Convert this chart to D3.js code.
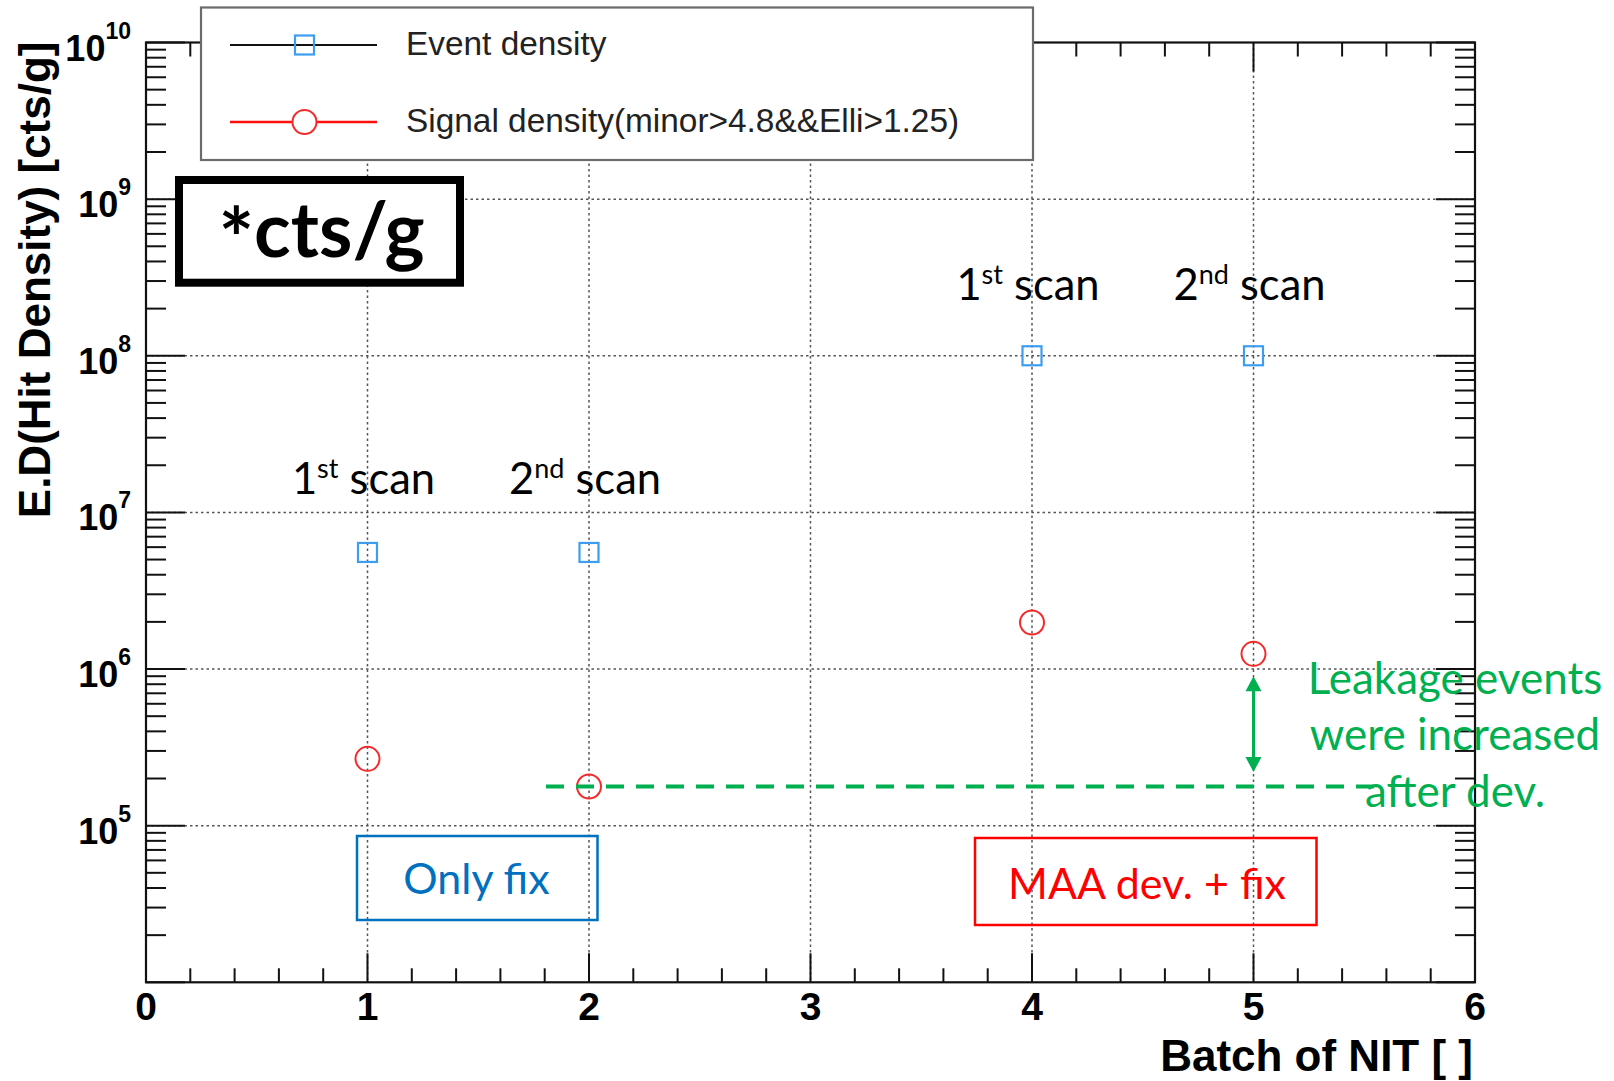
<!DOCTYPE html>
<html>
<head>
<meta charset="utf-8">
<script src="https://cdn.jsdelivr.net/npm/d3@7"></script>
<style>
  html, body { margin: 0; padding: 0; background: #fff; }
  svg { display: block; }
</style>
</head>
<body>
<svg id="chart" width="1614" height="1081"></svg>
<script>
// ---------------- data ----------------
const batches = [1, 2, 4, 5];
const eventDensity = [5.55e6, 5.55e6, 1.0e8, 1.0e8];
const signalDensity = [2.67e5, 1.78e5, 1.98e6, 1.25e6];
const xTickValues = [0, 1, 2, 3, 4, 5, 6];
const yDecades = [4, 5, 6, 7, 8, 9, 10];
const scanLabels = [
  { x: 1, num: "1", sup: "st" },
  { x: 2, num: "2", sup: "nd" },
  { x: 4, num: "1", sup: "st" },
  { x: 5, num: "2", sup: "nd" }
];
const legendLabels = ["Event density", "Signal density(minor>4.8&&Elli>1.25)"];
const leakageLines = ["Leakage events", "were increased", "after dev."];
const arrowRange = [0.9e6, 2.2e5];

// ---------------- layout ----------------
const L = 146, R = 1475, T = 42.5, B = 982.3;
const svg = d3.select("#chart");
const x = d3.scaleLinear().domain([0, 6]).range([L, R]);
const y = d3.scaleLog().domain([1e4, 1e10]).range([B, T]);

const ROOTFONT = "'Liberation Sans', Arial, Helvetica, sans-serif";
const CAL = "Lato, 'Open Sans', sans-serif";
const GREEN = "#00B050";

// grid
const gGrid = svg.append("g").attr("stroke", "#555").attr("stroke-width", 1.5)
  .attr("stroke-dasharray", "2.5,3");
gGrid.selectAll("line.gx").data([1, 2, 3, 4, 5]).join("line")
  .attr("x1", d => x(d)).attr("x2", d => x(d)).attr("y1", T).attr("y2", B);
gGrid.selectAll("line.gy").data([5, 6, 7, 8, 9]).join("line")
  .attr("x1", L).attr("x2", R).attr("y1", d => y(Math.pow(10, d))).attr("y2", d => y(Math.pow(10, d)));

// ticks
const xMinor = d3.range(0, 30).map(i => i * 0.2).filter(v => Math.abs(v - Math.round(v)) > 1e-6);
const yMinor = [];
for (let e = 4; e < 10; e++) for (let m = 2; m <= 9; m++) yMinor.push(m * Math.pow(10, e));
const gTicks = svg.append("g").attr("stroke", "#111").attr("stroke-width", 2);
gTicks.selectAll(null).data(xMinor).join("line")
  .attr("x1", d => x(d)).attr("x2", d => x(d)).attr("y1", B).attr("y2", B - 14);
gTicks.selectAll(null).data(xTickValues).join("line")
  .attr("x1", d => x(d)).attr("x2", d => x(d)).attr("y1", B).attr("y2", B - 29);
gTicks.selectAll(null).data(xMinor).join("line")
  .attr("x1", d => x(d)).attr("x2", d => x(d)).attr("y1", T).attr("y2", T + 14);
gTicks.selectAll(null).data(xTickValues).join("line")
  .attr("x1", d => x(d)).attr("x2", d => x(d)).attr("y1", T).attr("y2", T + 29);
gTicks.selectAll(null).data(yMinor).join("line")
  .attr("x1", L).attr("x2", L + 20).attr("y1", d => y(d)).attr("y2", d => y(d));
gTicks.selectAll(null).data(yDecades).join("line")
  .attr("x1", L).attr("x2", L + 39).attr("y1", d => y(Math.pow(10, d))).attr("y2", d => y(Math.pow(10, d)));
gTicks.selectAll(null).data(yMinor).join("line")
  .attr("x1", R).attr("x2", R - 20).attr("y1", d => y(d)).attr("y2", d => y(d));
gTicks.selectAll(null).data(yDecades).join("line")
  .attr("x1", R).attr("x2", R - 39).attr("y1", d => y(Math.pow(10, d))).attr("y2", d => y(Math.pow(10, d)));

// frame
svg.append("rect").attr("x", L).attr("y", T).attr("width", R - L).attr("height", B - T)
  .attr("fill", "none").attr("stroke", "#111").attr("stroke-width", 2.2);

// x tick labels
svg.append("g").selectAll("text").data(xTickValues).join("text")
  .attr("x", d => x(d)).attr("y", 1020).attr("text-anchor", "middle")
  .attr("font-family", ROOTFONT).attr("font-weight", "bold").attr("font-size", 39)
  .attr("fill", "#000").text(d => d);

// y tick labels (10^n)
const yl = svg.append("g").selectAll("text").data(yDecades.filter(d => d >= 5)).join("text")
  .attr("x", 131).attr("y", d => y(Math.pow(10, d)) + 18).attr("text-anchor", "end")
  .attr("font-family", ROOTFONT).attr("font-weight", "bold").attr("fill", "#000");
yl.append("tspan").attr("font-size", 36).text("10");
yl.append("tspan").attr("font-size", 23).attr("dy", -22).text(d => d);

// axis titles
svg.append("text").attr("x", R - 2).attr("y", 1071).attr("text-anchor", "end")
  .attr("font-family", ROOTFONT).attr("font-weight", "bold").attr("font-size", 44)
  .attr("fill", "#000").text("Batch of NIT [ ]");
svg.append("text").attr("transform", `translate(50,${T - 1}) rotate(-90)`)
  .attr("text-anchor", "end")
  .attr("font-family", ROOTFONT).attr("font-weight", "bold").attr("font-size", 44)
  .attr("fill", "#000").text("E.D(Hit Density) [cts/g]");

// data markers
const gPts = svg.append("g");
gPts.selectAll("rect").data(batches).join("rect")
  .attr("x", (d, i) => x(d) - 9.5).attr("y", (d, i) => y(eventDensity[i]) - 9.5)
  .attr("width", 19).attr("height", 19)
  .attr("fill", "none").attr("stroke", "#3d9df0").attr("stroke-width", 2.2);
gPts.selectAll("circle").data(batches).join("circle")
  .attr("cx", d => x(d)).attr("cy", (d, i) => y(signalDensity[i])).attr("r", 12)
  .attr("fill", "none").attr("stroke", "#f52a2a").attr("stroke-width", 2);

// legend
svg.append("rect").attr("x", 201).attr("y", 7.5).attr("width", 832).attr("height", 152.5)
  .attr("fill", "#fff").attr("stroke", "#6b6b6b").attr("stroke-width", 2.2);
const legY = [45, 122];
svg.append("line").attr("x1", 230).attr("x2", 377).attr("y1", legY[0]).attr("y2", legY[0])
  .attr("stroke", "#111").attr("stroke-width", 2);
svg.append("rect").attr("x", 304.5 - 9.5).attr("y", legY[0] - 9.5).attr("width", 19).attr("height", 19)
  .attr("fill", "none").attr("stroke", "#3d9df0").attr("stroke-width", 2.2);
svg.append("line").attr("x1", 230).attr("x2", 377).attr("y1", legY[1]).attr("y2", legY[1])
  .attr("stroke", "#ff1010").attr("stroke-width", 2.4);
svg.append("circle").attr("cx", 304.5).attr("cy", legY[1]).attr("r", 12)
  .attr("fill", "#fff").attr("stroke", "#f52a2a").attr("stroke-width", 2);
svg.append("g").selectAll("text").data(legendLabels).join("text")
  .attr("x", 406).attr("y", (d, i) => legY[i] + 10)
  .attr("font-family", ROOTFONT).attr("font-size", 33.4).attr("fill", "#222").text(d => d);

// "*cts/g" box
svg.append("rect").attr("x", 179).attr("y", 180).attr("width", 281).attr("height", 102.7)
  .attr("fill", "#fff").attr("stroke", "#000").attr("stroke-width", 8);
const ct = svg.append("text").attr("x", 321.5).attr("y", 257).attr("text-anchor", "middle")
  .attr("font-family", CAL).attr("font-weight", "bold").attr("font-size", 76).attr("fill", "#000");
ct.append("tspan").attr("font-size", 84).attr("dy", 12).text("*");
ct.append("tspan").attr("dy", -12).text("cts/g");

// scan labels
const sl = svg.append("g").selectAll("text").data(scanLabels).join("text")
  .attr("x", d => x(d.x) - 4).attr("y", (d, i) => i < 2 ? 494 : 300)
  .attr("text-anchor", "middle").attr("font-family", CAL).attr("font-size", 43.5).attr("fill", "#000");
sl.append("tspan").text(d => d.num);
sl.append("tspan").attr("font-size", 27).attr("dy", -16).text(d => d.sup);
sl.append("tspan").attr("dy", 16).text(" scan");

// Only fix box
svg.append("rect").attr("x", 357).attr("y", 836).attr("width", 240.5).attr("height", 84)
  .attr("fill", "none").attr("stroke", "#0070C0").attr("stroke-width", 2.5);
svg.append("text").attr("x", 476.5).attr("y", 894).attr("text-anchor", "middle")
  .attr("font-family", CAL).attr("font-size", 43).attr("fill", "#0070C0").text("Only fix");

// MAA dev. + fix box
svg.append("rect").attr("x", 975).attr("y", 838).attr("width", 341.5).attr("height", 87)
  .attr("fill", "none").attr("stroke", "#FF0000").attr("stroke-width", 2.5);
svg.append("text").attr("x", 1147).attr("y", 898.5).attr("text-anchor", "middle")
  .attr("font-family", CAL).attr("font-size", 43).attr("fill", "#FF0000").text("MAA dev. + fix");

// green dashed reference line at batch-2 signal level
svg.append("line").attr("x1", 546).attr("x2", 1380)
  .attr("y1", y(signalDensity[1])).attr("y2", y(signalDensity[1]))
  .attr("stroke", GREEN).attr("stroke-width", 4).attr("stroke-dasharray", "18,12");

// green double arrow at batch 5
const ax = x(5), ay1 = y(arrowRange[0]), ay2 = y(arrowRange[1]);
svg.append("line").attr("x1", ax).attr("x2", ax).attr("y1", ay1 + 12).attr("y2", ay2 - 12)
  .attr("stroke", GREEN).attr("stroke-width", 3);
svg.append("path").attr("d", `M${ax},${ay1} L${ax - 8},${ay1 + 15} L${ax + 8},${ay1 + 15} Z`).attr("fill", GREEN);
svg.append("path").attr("d", `M${ax},${ay2} L${ax - 8},${ay2 - 15} L${ax + 8},${ay2 - 15} Z`).attr("fill", GREEN);

// green annotation text
svg.append("g").selectAll("text").data(leakageLines).join("text")
  .attr("x", 1455).attr("y", (d, i) => 694 + i * 56.3).attr("text-anchor", "middle")
  .attr("font-family", CAL).attr("font-size", 44).attr("fill", GREEN).text(d => d);
</script>
</body>
</html>
